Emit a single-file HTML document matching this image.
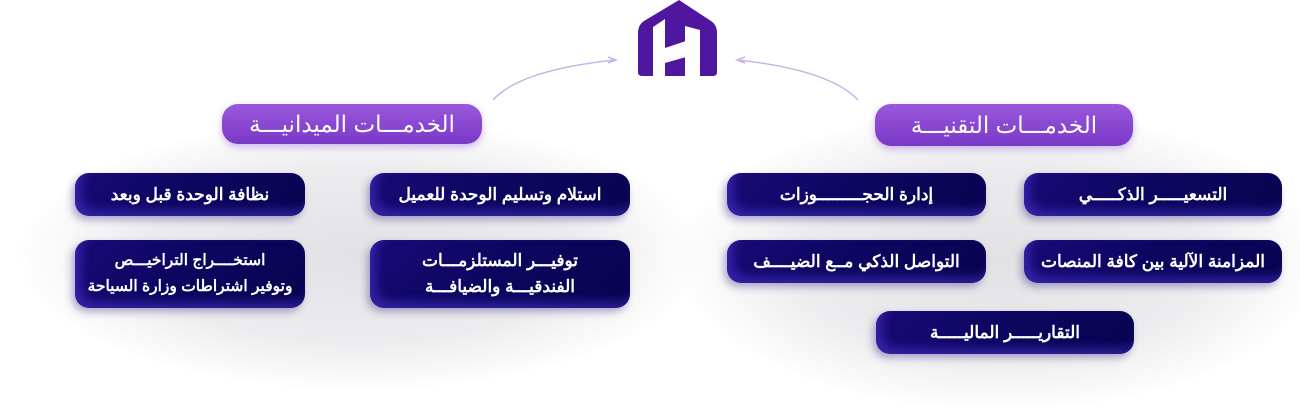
<!DOCTYPE html>
<html><head><meta charset="utf-8"><style>
body{margin:0;width:1300px;height:420px;background:#fff;position:relative;overflow:hidden;font-family:"Liberation Sans","Noto Sans CJK SC",sans-serif}
.sh{position:absolute;border-radius:50%;background:radial-gradient(ellipse at center,#e2e2e4 0%,#ececee 45%,rgba(255,255,255,0) 72%)}
.b{position:absolute;border-radius:14px;background:linear-gradient(135deg,#1a0a78 0%,#0d0660 45%,#090450 100%);color:#fff;font-size:17px;font-weight:bold;display:flex;align-items:center;justify-content:center;text-align:center;direction:rtl;line-height:26px;box-shadow:-3px 4px 8px rgba(40,20,120,.35), inset 6px -6px 10px rgba(80,60,220,.5)}
.h{position:absolute;border-radius:16px;background:linear-gradient(180deg,#9a58dc,#7a38c8);color:#fff;font-size:23px;display:flex;align-items:center;justify-content:center;direction:rtl;box-shadow:0 3px 8px rgba(120,60,200,.35)}
</style></head><body>
<div class="sh" style="left:20px;top:120px;width:680px;height:270px"></div>
<div class="sh" style="left:680px;top:110px;width:640px;height:300px"></div>
<svg style="position:absolute;left:0;top:0" width="1300" height="420">
<path d="M493 100 Q520 70 615 60" fill="none" stroke="#c9b4ea" stroke-width="1.5"/>
<path d="M608 57 L616 60 L608 63" fill="none" stroke="#c9b4ea" stroke-width="1.5"/>
<path d="M858 100 Q830 70 738 60" fill="none" stroke="#c9b4ea" stroke-width="1.5"/>
<path d="M745 57 L737 60 L745 63" fill="none" stroke="#c9b4ea" stroke-width="1.5"/>
<path d="M679 0 L711 21 Q717 25 717 33 L717 72 Q717 76 713 76 L642 76 Q638 76 638 72 L638 33 Q638 25 644 21 Z" fill="#4f16a0"/>
<path d="M653 27 L665 19 L665 76 L653 76 Z" fill="#fff"/>
<path d="M665 48 L686 41 L686 57 L665 63 Z" fill="#fff"/>
<path d="M685 26 L700 30 L700 76 L685 76 Z" fill="#fff"/>
</svg>
<div class="h" style="left:222px;top:104px;width:260px;height:40px">الخدمـــات الميدانيـــة</div>
<div class="h" style="left:875px;top:104px;width:258px;height:42px">الخدمـــات التقنيـــة</div>
<div class="b" style="left:75px;top:173px;width:230px;height:43px">نظافة الوحدة قبل وبعد</div>
<div class="b" style="left:370px;top:173px;width:260px;height:43px">استلام وتسليم الوحدة للعميل</div>
<div class="b" style="left:75px;top:240px;width:230px;height:68px;font-size:15.5px">استخــــراج التراخيـــص<br>وتوفير اشتراطات وزارة السياحة</div>
<div class="b" style="left:370px;top:240px;width:260px;height:68px">توفيـــر المستلزمـــات<br>الفندقيـــة والضيافـــة</div>
<div class="b" style="left:727px;top:173px;width:259px;height:43px">إدارة الحجـــــــــوزات</div>
<div class="b" style="left:1024px;top:173px;width:258px;height:43px">التسعيـــــر الذكـــــي</div>
<div class="b" style="left:727px;top:240px;width:259px;height:43px">التواصل الذكي مــع الضيــــف</div>
<div class="b" style="left:1024px;top:240px;width:258px;height:43px">المزامنة الآلية بين كافة المنصات</div>
<div class="b" style="left:876px;top:311px;width:258px;height:43px">التقاريـــــر الماليـــــة</div>
</body></html>
